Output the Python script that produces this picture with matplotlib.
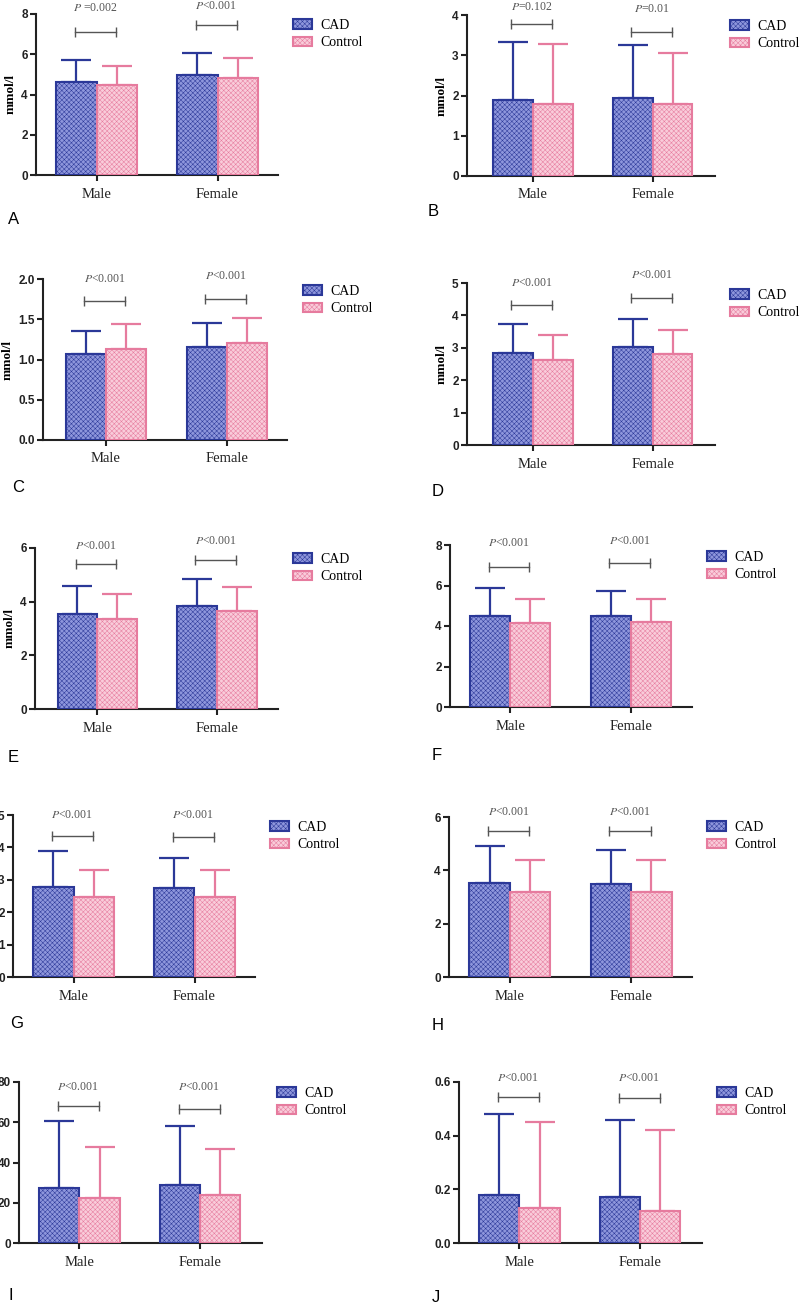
import numpy as np
import matplotlib
matplotlib.use("Agg")
import matplotlib.pyplot as plt
from matplotlib.patches import Patch

plt.rcParams['mathtext.fontset'] = 'stix'
plt.rcParams['hatch.linewidth'] = 0.35

groups = ['Male', 'Female']
series = ['CAD', 'Control']
panels = ['A', 'B', 'C', 'D', 'E', 'F', 'G', 'H', 'I', 'J']

# means (Male, Female) and SD for each panel
cad_mean = [[4.60, 4.97], [1.89, 1.95], [1.07, 1.16], [2.84, 3.02], [3.54, 3.83],
            [4.49, 4.49], [2.79, 2.74], [3.51, 3.48], [27.5, 29.0], [0.18, 0.17]]
cad_sd = [[1.10, 1.10], [1.44, 1.30], [0.29, 0.29], [0.90, 0.88], [1.06, 1.02],
          [1.37, 1.24], [1.10, 0.94], [1.39, 1.30], [33.0, 29.0], [0.30, 0.29]]
ctl_mean = [[4.47, 4.84], [1.79, 1.80], [1.13, 1.21], [2.63, 2.82], [3.37, 3.64],
            [4.16, 4.18], [2.48, 2.48], [3.19, 3.20], [22.4, 24.0], [0.13, 0.12]]
ctl_sd = [[0.96, 0.96], [1.49, 1.25], [0.31, 0.30], [0.75, 0.74], [0.93, 0.91],
          [1.17, 1.17], [0.82, 0.82], [1.19, 1.18], [25.3, 22.5], [0.32, 0.30]]

p_labels = [[r'$P$ =0.002', r'$P$<0.001'], [r'$P$=0.102', r'$P$=0.01']] + \
           [[r'$P$<0.001', r'$P$<0.001']] * 8
bracket_y = [[7.1, 7.45], [3.77, 3.59], [1.73, 1.75], [4.33, 4.54], [5.41, 5.57],
             [6.93, 7.13], [4.36, 4.33], [5.46, 5.46], [68.1, 66.8], [0.543, 0.54]]
p_text_y = [[8.28, 8.4], [4.2, 4.14], [2.0, 2.04], [5.0, 5.26], [6.07, 6.25],
            [8.09, 8.2], [4.99, 4.99], [6.18, 6.18], [77.5, 77.5], [0.615, 0.615]]

y_max = [8, 4, 2.0, 5, 6, 8, 5, 6, 80, 0.6]
y_step = [2, 1, 0.5, 1, 2, 2, 1, 2, 20, 0.2]
y_fmt = ['{:.0f}', '{:.0f}', '{:.1f}', '{:.0f}', '{:.0f}', '{:.0f}', '{:.0f}', '{:.0f}', '{:.0f}', '{:.1f}']
has_ylabel = [True, True, True, True, True, False, False, False, False, False]

# layout in pixels: (left, zero line, right, top), legend (x, y), panel letter (x, y)
ax_px = [(36, 175, 278, 14), (467, 176, 715, 15), (43, 440, 287, 279), (467, 445, 715, 283),
         (35, 709, 278, 548), (450, 707, 692, 545), (13, 977, 255, 815), (449, 977, 692, 817),
         (19, 1243, 262, 1082), (459, 1243, 702, 1082)]
xlims = [(-0.5, 1.5), (-0.55, 1.52), (-0.52, 1.5), (-0.55, 1.52), (-0.52, 1.51),
         (-0.5, 1.51), (-0.5, 1.5), (-0.5, 1.5), (-0.5, 1.51), (-0.5, 1.51)]
leg_px = [(293, 34), (730, 35), (303, 300), (730, 304), (293, 568), (707, 566),
          (270, 836), (707, 836), (277, 1102), (717, 1102)]
lab_px = [(8, 220), (428, 212), (12, 488), (432, 491), (8, 757), (432, 755),
          (10, 1024), (432, 1025), (8, 1295), (432, 1297)]

W, H = 800, 1305
fig = plt.figure(figsize=(W / 100, H / 100), dpi=100)

cad_face, cad_edge = '#8e96dc', '#2b3898'
ctl_face, ctl_edge = '#f9ccda', '#e67b9e'
hatch = 'xxxxxxx'
bw = 0.332
x = np.arange(len(groups))
serif = 'Liberation Serif'

for k in range(len(panels)):
    l, b, r, t = ax_px[k]
    ax = fig.add_axes([l / W, (H - b) / H, (r - l) / W, (b - t) / H])

    ax.bar(x - bw / 2, cad_mean[k], bw, facecolor=cad_face, edgecolor=cad_edge,
           hatch=hatch, linewidth=1.5, zorder=3)
    ax.bar(x + bw / 2, ctl_mean[k], bw, facecolor=ctl_face, edgecolor=ctl_edge,
           hatch=hatch, linewidth=1.5, zorder=3)
    ax.errorbar(x - bw / 2, cad_mean[k], yerr=[np.zeros(2), cad_sd[k]], fmt='none',
                ecolor=cad_edge, elinewidth=1.6, capsize=11, capthick=1.6, zorder=2)
    ax.errorbar(x + bw / 2, ctl_mean[k], yerr=[np.zeros(2), ctl_sd[k]], fmt='none',
                ecolor=ctl_edge, elinewidth=1.6, capsize=11, capthick=1.6, zorder=2)

    # significance brackets
    for g in range(len(groups)):
        yb = bracket_y[k][g]
        ax.plot([x[g] - 0.18, x[g] + 0.16], [yb, yb], color='#555555', lw=1,
                marker='|', markersize=7, markeredgewidth=1, clip_on=False)
        ax.text(x[g] - 0.01, p_text_y[k][g], p_labels[k][g], ha='center', va='center',
                fontsize=8.5, color='#555555', family=serif)

    ax.set_xlim(*xlims[k])
    ax.set_ylim(0, y_max[k])
    yt = np.arange(0, y_max[k] + y_step[k] / 2, y_step[k])
    ax.set_yticks(yt)
    ax.set_yticklabels([y_fmt[k].format(v) for v in yt], fontsize=8.5, fontweight='bold',
                       family='Liberation Sans', color='#222222')
    ax.set_xticks(x)
    ax.set_xticklabels(groups, fontsize=10.5, family=serif, color='#222222')
    for s in ['top', 'right']:
        ax.spines[s].set_visible(False)
    for s in ['left', 'bottom']:
        ax.spines[s].set_linewidth(1.5)
        ax.spines[s].set_color('#222222')
    ax.tick_params(axis='both', direction='out', length=4, width=1.5, pad=2, color='#222222')
    ax.tick_params(axis='x', pad=5)
    if has_ylabel[k]:
        ax.set_ylabel('mmol/l', fontsize=9.5, fontweight='bold', family=serif, labelpad=3)

    handles = [Patch(facecolor=cad_face, edgecolor=cad_edge, hatch=hatch, linewidth=1.5),
               Patch(facecolor=ctl_face, edgecolor=ctl_edge, hatch=hatch, linewidth=1.5)]
    lx, ly = leg_px[k]
    fig.legend(handles, series, loc='center left', bbox_to_anchor=(lx / W, (H - ly) / H),
               frameon=False, prop={'family': serif, 'size': 10}, handlelength=1.4,
               handleheight=0.7, handletextpad=0.6, labelspacing=0.35, borderpad=0,
               borderaxespad=0)

    px, py = lab_px[k]
    fig.text(px / W, (H - py) / H, panels[k], ha='left', va='center', fontsize=12,
             family='Liberation Sans')

fig.savefig('out.png', dpi=100)
